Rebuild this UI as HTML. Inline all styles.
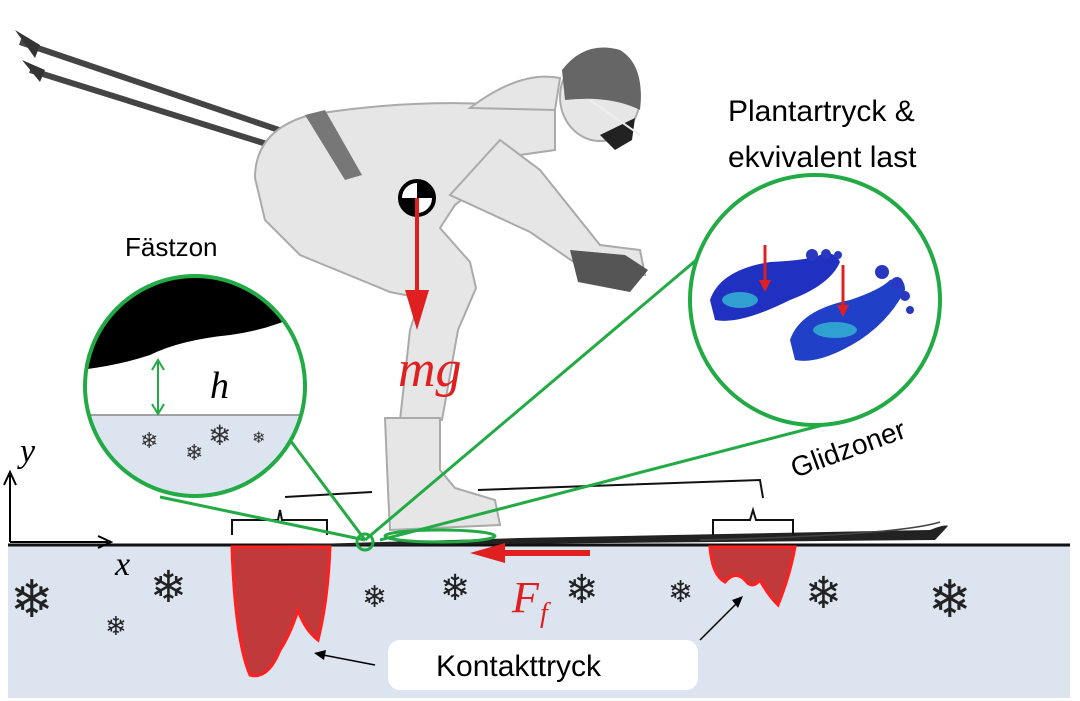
<!DOCTYPE html>
<html><head><meta charset="utf-8"><style>
body{margin:0;background:#fff;}
svg{display:block;font-family:"Liberation Sans",sans-serif;}
</style></head><body>
<svg width="1080" height="701" viewBox="0 0 1080 701" xmlns="http://www.w3.org/2000/svg">
<rect width="1080" height="701" fill="#fff"/>
<!-- snow -->
<rect x="8" y="545" width="1062" height="153" fill="#dbe4ef"/>
<line x1="8" y1="545" x2="1070" y2="545" stroke="#111" stroke-width="3"/>
<!-- ski -->
<path d="M280 545 L520 538 L930 530 Q945 524 948 526 L935 540 L280 546Z" fill="#222"/>
<path d="M700 540 Q900 535 940 522" stroke="#444" stroke-width="1.5" fill="none"/>
<!-- red pressure -->
<path d="M232 547 L330 547 Q328 600 318 640 Q305 630 298 610 Q290 635 280 650 Q268 680 250 675 Q235 640 232 547Z" fill="#c0393b" stroke="#ff2020" stroke-width="3"/>
<path d="M710 547 L795 547 Q790 575 778 605 Q768 595 760 580 Q752 590 745 580 Q735 570 725 582 Q712 575 710 547Z" fill="#c0393b" stroke="#ff2020" stroke-width="3"/>
<!-- brackets -->
<path d="M232 535 L232 520 L278 520 L280 510 L282 520 L327 520 L327 535" stroke="#111" stroke-width="2" fill="none"/>
<path d="M713 535 L713 520 L750 520 L753 510 L756 520 L793 520 L793 535" stroke="#111" stroke-width="2" fill="none"/>
<line x1="285" y1="497" x2="372" y2="492" stroke="#111" stroke-width="2"/>
<path d="M478 490 L760 480 L763 498" stroke="#111" stroke-width="2" fill="none"/>
<!-- poles -->
<line x1="20" y1="42" x2="573" y2="230" stroke="#444" stroke-width="6"/>
<line x1="30" y1="70" x2="420" y2="192" stroke="#444" stroke-width="6"/>
<path d="M15 30 L40 45 L35 58Z M22 60 L45 70 L40 82Z" fill="#333"/>
<!-- skier silhouette -->
<g fill="#e6e6e6" stroke="#aaa" stroke-width="2">
<path d="M255 178 Q255 130 310 115 Q400 100 490 104 L555 108 L555 150 L520 155 L455 205 L440 228 L470 262 L476 288 L458 330 L442 420 L400 420 L410 330 L420 298 L390 292 L300 255 L265 220 Z"/>
<path d="M500 140 L540 170 L600 245 L640 250 L645 275 L600 280 L530 232 L450 195 Z"/>
<path d="M385 418 L440 418 L440 470 L455 488 L495 500 L500 525 L390 530 L388 490Z"/>
<ellipse cx="600" cy="97" rx="40" ry="44"/>
<path d="M470 108 Q520 70 560 78 L555 110Z"/>
</g>
<path d="M562 70 Q585 40 620 50 Q645 65 640 110 Q610 95 565 100Z" fill="#666"/>
<path d="M600 135 L635 118 L632 140 L615 150Z" fill="#222"/>
<path d="M590 100 L640 135" stroke="#eee" stroke-width="2"/>
<path d="M570 250 L625 255 L648 270 L630 292 L578 282Z" fill="#555"/>
<path d="M305 115 L325 110 L362 175 L345 180Z" fill="#777"/>
<!-- CoM -->
<circle cx="417" cy="198" r="17" fill="#fff" stroke="#000" stroke-width="4"/>
<path d="M417 181 A17 17 0 0 1 434 198 L417 198Z M417 215 A17 17 0 0 1 400 198 L417 198Z" fill="#000"/>
<line x1="417" y1="198" x2="417" y2="295" stroke="#e02020" stroke-width="4"/>
<path d="M405 290 L429 290 L417 330Z" fill="#e02020"/>
<text x="398" y="386" font-family="Liberation Serif" font-style="italic" font-size="52" fill="#e02020">mg</text>
<!-- Ff -->
<line x1="590" y1="553" x2="500" y2="553" stroke="#e02020" stroke-width="6"/>
<path d="M505 543 L470 553 L505 563Z" fill="#e02020"/>
<text x="512" y="612" font-family="Liberation Serif" font-style="italic" font-size="44" fill="#e02020">F</text>
<text x="540" y="622" font-family="Liberation Serif" font-style="italic" font-size="28" fill="#e02020">f</text>
<!-- green lines -->
<g stroke="#22aa44" stroke-width="3" fill="none">
<line x1="365" y1="540" x2="290" y2="440"/>
<line x1="365" y1="540" x2="160" y2="497"/>
<line x1="365" y1="540" x2="720" y2="240"/>
<line x1="380" y1="540" x2="850" y2="418"/>
<ellipse cx="440" cy="536" rx="55" ry="6"/>
<circle cx="365" cy="542" r="8"/>
</g>
<!-- left circle -->
<defs><clipPath id="cl"><circle cx="195" cy="386" r="110"/></clipPath>
<clipPath id="cr"><circle cx="815" cy="300" r="125"/></clipPath></defs>
<circle cx="195" cy="386" r="110" fill="#fff"/>
<g clip-path="url(#cl)">
<rect x="80" y="415" width="230" height="90" fill="#dbe4ef"/>
<line x1="80" y1="415" x2="310" y2="415" stroke="#888" stroke-width="1.5"/>
<path d="M80 270 L310 270 L310 310 Q270 330 230 335 Q180 340 150 355 Q120 365 80 370Z" fill="#000"/>
</g>
<circle cx="195" cy="386" r="110" fill="none" stroke="#22aa44" stroke-width="4"/>
<line x1="158" y1="362" x2="158" y2="412" stroke="#22aa44" stroke-width="2"/>
<path d="M152 370 L158 360 L164 370 M152 404 L158 414 L164 404" stroke="#22aa44" stroke-width="2" fill="none"/>
<text x="210" y="398" font-family="Liberation Serif" font-style="italic" font-size="38">h</text>
<g font-size="22" fill="#333"><text x="140" y="448">❄</text><text x="185" y="460">❄</text><text x="208" y="445" font-size="28">❄</text><text x="252" y="443" font-size="16">❄</text></g>
<text x="125" y="256" font-size="26">Fästzon</text>
<!-- right circle -->
<circle cx="815" cy="300" r="125" fill="#fff"/>
<g clip-path="url(#cr)">
<path d="M710 300 Q720 270 770 262 Q810 260 820 255 Q835 250 840 262 Q830 285 790 300 Q740 325 715 320Z" fill="#2030c0"/>
<path d="M790 340 Q800 310 850 300 Q880 290 890 280 Q905 275 905 290 Q890 320 860 340 Q820 365 795 360Z" fill="#2040c8"/>
<ellipse cx="740" cy="300" rx="18" ry="8" fill="#30a0d0"/>
<ellipse cx="835" cy="330" rx="22" ry="8" fill="#30a0d0"/>
<g fill="#2838c0"><circle cx="812" cy="255" r="6"/><circle cx="826" cy="254" r="5"/><circle cx="838" cy="255" r="4"/><circle cx="882" cy="272" r="7"/><circle cx="897" cy="283" r="6"/><circle cx="905" cy="296" r="5"/><circle cx="910" cy="310" r="4"/></g>
</g>
<line x1="765" y1="245" x2="765" y2="285" stroke="#e02020" stroke-width="3"/>
<path d="M759 280 L771 280 L765 292Z" fill="#e02020"/>
<line x1="843" y1="265" x2="843" y2="310" stroke="#e02020" stroke-width="3"/>
<path d="M837 305 L849 305 L843 317Z" fill="#e02020"/>
<circle cx="815" cy="300" r="125" fill="none" stroke="#22aa44" stroke-width="4"/>
<text x="728" y="121" font-size="30">Plantartryck &amp;</text>
<text x="728" y="167" font-size="30">ekvivalent last</text>
<text x="795" y="478" font-size="28" transform="rotate(-20 795 478)">Glidzoner</text>
<!-- axes -->
<line x1="10" y1="542" x2="10" y2="475" stroke="#000" stroke-width="2"/>
<path d="M4 485 L10 472 L16 485" stroke="#000" stroke-width="2" fill="none"/>
<line x1="10" y1="542" x2="108" y2="542" stroke="#000" stroke-width="2"/>
<path d="M98 536 L111 542 L98 548" stroke="#000" stroke-width="2" fill="none"/>
<text x="20" y="462" font-family="Liberation Serif" font-style="italic" font-size="34">y</text>
<text x="115" y="575" font-family="Liberation Serif" font-style="italic" font-size="34">x</text>
<!-- snowflakes -->
<g fill="#222">
<text x="10" y="617" font-size="52">❄</text>
<text x="150" y="602" font-size="44">❄</text>
<text x="105" y="635" font-size="26">❄</text>
<text x="362" y="607" font-size="30">❄</text>
<text x="440" y="600" font-size="36">❄</text>
<text x="565" y="603" font-size="40">❄</text>
<text x="668" y="602" font-size="30">❄</text>
<text x="805" y="608" font-size="44">❄</text>
<text x="928" y="617" font-size="52">❄</text>
</g>
<!-- kontakttryck -->
<rect x="388" y="640" width="310" height="50" rx="12" fill="#fff"/>
<text x="436" y="676" font-size="30">Kontakttryck</text>
<line x1="375" y1="665" x2="318" y2="654" stroke="#000" stroke-width="1.5"/>
<path d="M326 650 L314 653 L324 660Z" fill="#000"/>
<line x1="700" y1="640" x2="740" y2="600" stroke="#000" stroke-width="1.5"/>
<path d="M732 600 L743 596 L738 608Z" fill="#000"/>
</svg>
</body></html>
